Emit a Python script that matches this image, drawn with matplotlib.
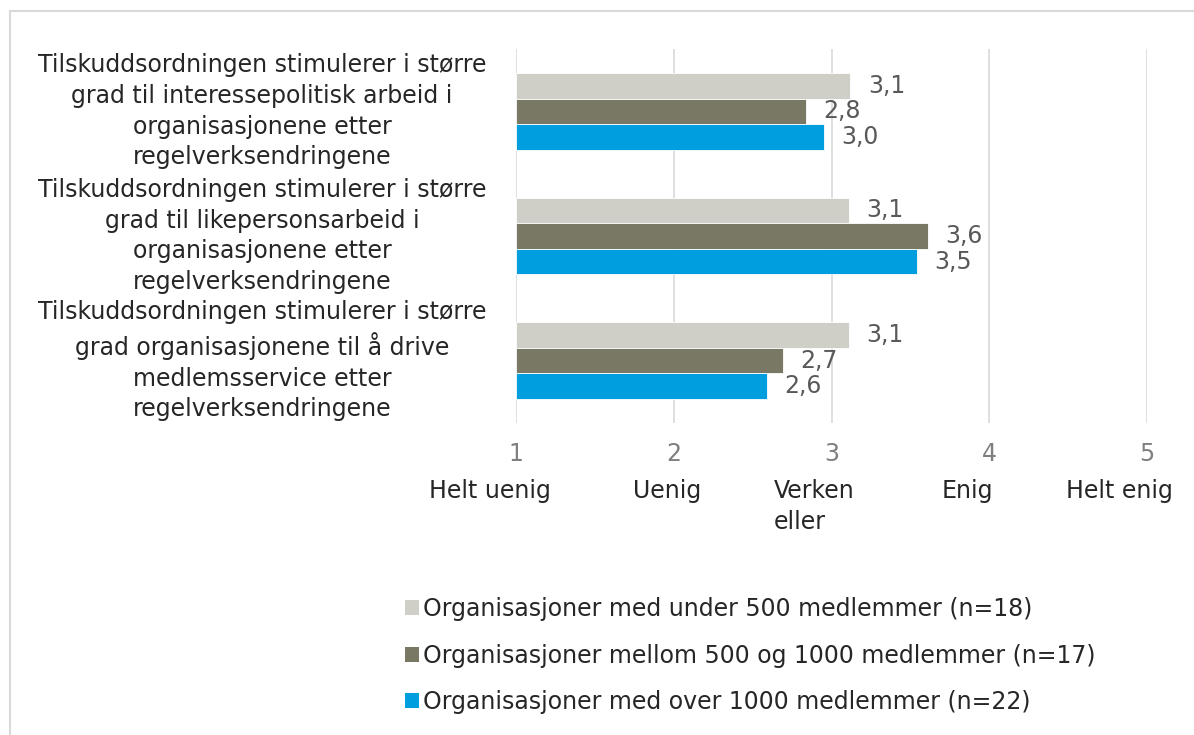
import numpy as np
import matplotlib.pyplot as plt
import matplotlib.transforms as mtransforms
from matplotlib.patches import Rectangle, Patch

plt.rcParams['font.family'] = ['DejaVu Sans']

# data
categories = [
    'Tilskuddsordningen stimulerer i større\ngrad til interessepolitisk arbeid i\norganisasjonene etter\nregelverksendringene',
    'Tilskuddsordningen stimulerer i større\ngrad til likepersonsarbeid i\norganisasjonene etter\nregelverksendringene',
    'Tilskuddsordningen stimulerer i større\ngrad organisasjonene til å drive\nmedlemsservice etter\nregelverksendringene',
]
series_names = [
    'Organisasjoner med under 500 medlemmer (n=18)',
    'Organisasjoner mellom 500 og 1000 medlemmer (n=17)',
    'Organisasjoner med over 1000 medlemmer (n=22)',
]
under_500 = [3.12, 3.11, 3.11]
mellom_500_1000 = [2.84, 3.61, 2.69]
over_1000 = [2.95, 3.54, 2.59]
tick_values = [1, 2, 3, 4, 5]
tick_words = ['Helt uenig', 'Uenig', 'Verken\neller', 'Enig', 'Helt enig']

colors = ['#d0cfc7', '#797865', '#009ede']
series = [under_500, mellom_500_1000, over_1000]

fig = plt.figure(figsize=(11.94, 7.35), dpi=100)
ax = fig.add_axes([516/1194, 1-423/735, (1147-516)/1194, (423-49)/735])

y = np.arange(len(categories))
h = 0.205
for i, vals in enumerate(series):
    pos = y + (i - 1) * h
    ax.barh(pos, np.array(vals) - 1, left=1, height=h, color=colors[i],
            edgecolor='white', linewidth=0.6, zorder=3)
    for p, v in zip(pos, vals):
        ax.text(v + 0.11, p, f'{v:.1f}'.replace('.', ','), va='center', ha='left',
                fontsize=17, color='#595959')

ax.set_xlim(1, 5)
ax.set_ylim(2.5, -0.5)
ax.set_xticks(tick_values)
ax.set_xticklabels([str(t) for t in tick_values], fontsize=17, color='#7f7f7f')
ax.tick_params(axis='x', length=0, pad=14)
ax.set_yticks(y)
ax.set_yticklabels([])
ax.tick_params(axis='y', length=0)
ax.grid(axis='x', color='#d9d9d9', linewidth=1.2, zorder=0)
for s in ax.spines.values():
    s.set_visible(False)

# category labels, centred left of the bars
trans = mtransforms.blended_transform_factory(fig.transFigure, ax.transData)
for yi, c in zip(y, categories):
    ax.text(262/1194, yi, c, transform=trans, ha='center', va='center',
            fontsize=17, color='#262626', linespacing=1.35)

# words under the tick numbers (Excel nudges them a little to the left)
shift = [-0.165, -0.044, -0.111, -0.139, -0.177]
trans_x = mtransforms.blended_transform_factory(ax.transData, fig.transFigure)
for t, w, d in zip(tick_values, tick_words, shift):
    ax.text(t + d, 1-479/735, w, transform=trans_x, ha='center', va='top',
            multialignment='left', fontsize=17, color='#262626',
            linespacing=1.35, clip_on=False)

# legend
handles = [Patch(facecolor=c, edgecolor='none') for c in colors]
fig.legend(handles, series_names, loc='upper left', bbox_to_anchor=(384/1194, 1-576/735),
           frameon=False, fontsize=17, handlelength=0.6, handleheight=0.6,
           handletextpad=0.15, labelspacing=0.95, labelcolor='#262626')

# outer border
fig.patches.append(Rectangle((10/1194, -0.1), 1.2, 1.1 - 11/735, transform=fig.transFigure,
                             fill=False, edgecolor='#d9d9d9', linewidth=1.5))

fig.savefig('out.png', dpi=100)
